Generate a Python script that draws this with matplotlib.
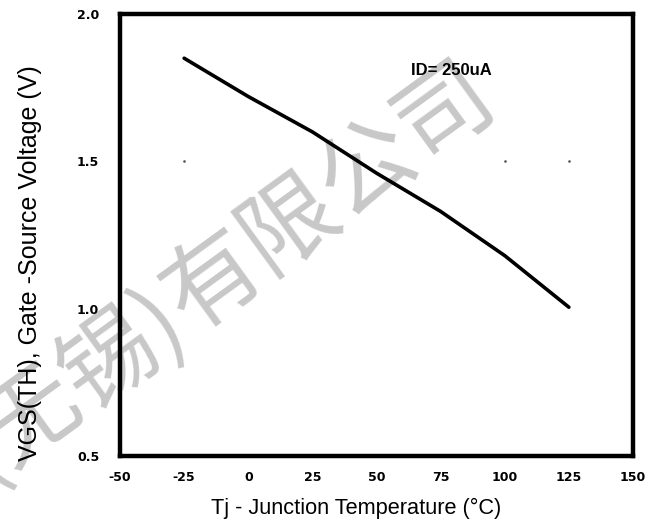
import matplotlib
matplotlib.use("Agg")
import matplotlib.pyplot as plt

# Threshold voltage vs junction temperature
temp = [-25, 0, 25, 50, 75, 100, 125]
vgs_th = [1.85, 1.72, 1.60, 1.46, 1.33, 1.18, 1.005]

x_ticks = [-50, -25, 0, 25, 50, 75, 100, 125, 150]
y_ticks = [0.5, 1.0, 1.5, 2.0]

# leftover grid dots at 1.5 V
dot_x = [-25, 100, 125]
dot_y = [1.5, 1.5, 1.5]

CJK = ["Noto Sans CJK SC", "DejaVu Sans"]

fig = plt.figure(figsize=(6.58, 5.27), dpi=100)
ax = fig.add_axes([0.1824, 0.1347, 0.7796, 0.8387])
ax.patch.set_alpha(0)

# watermark behind the axes, split at the closing paren so both halves
# share one anchor point
wm = dict(family=CJK, fontsize=69, color="#c8c8c8", rotation=36,
          rotation_mode="anchor", va="center", zorder=-1)
fig.text(0.265, 0.412, "有限公司", ha="left", **wm)
fig.text(0.265, 0.412, "(无锡)", ha="right", **wm)

ax.plot(temp, vgs_th, color="black", lw=2.6, solid_capstyle="round")
ax.plot(dot_x, dot_y, ls="none", marker="s", ms=0.8, color="#555555")

ax.set_xlim(-50, 150)
ax.set_ylim(0.5, 2.0)
ax.set_xticks(x_ticks)
ax.set_yticks(y_ticks)
ax.set_xticklabels([str(v) for v in x_ticks])
ax.set_yticklabels(["%.1f" % v for v in y_ticks])
ax.tick_params(length=0, labelsize=9)
ax.tick_params(axis="x", pad=11)
ax.tick_params(axis="y", pad=15)
for lab in ax.get_xticklabels() + ax.get_yticklabels():
    lab.set_fontweight("bold")

for s in ax.spines.values():
    s.set_linewidth(3.2)

ax.text(63.5, 1.81, "ID= 250uA", fontsize=12, family="Liberation Sans",
        fontweight="semibold", va="center", ha="left")

fig.text(356 / 658, 1 - 508 / 527, "Tj - Junction Temperature (°C)",
         family="Liberation Sans", fontsize=15.7, ha="center", va="center")
fig.text(30 / 658, 1 - 263 / 527, "VGS(TH), Gate -Source Voltage (V)",
         family="Liberation Sans", fontsize=18, rotation=90,
         ha="center", va="center")

fig.savefig("out.png", dpi=100)
